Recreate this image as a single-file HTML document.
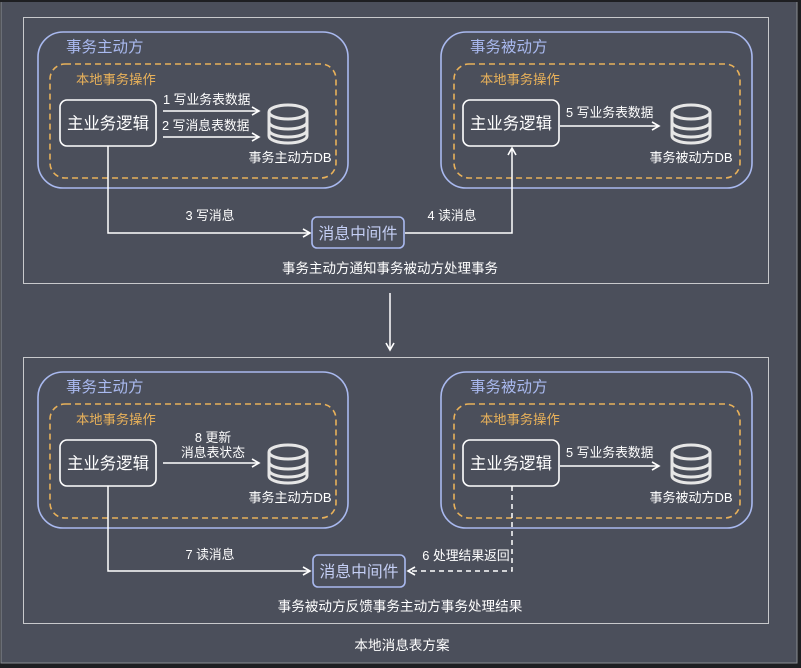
<!DOCTYPE html>
<html><head><meta charset="utf-8"><style>
html,body{margin:0;padding:0;background:#1e1f22;}
svg{display:block;font-family:"Liberation Sans","Noto Sans CJK SC",sans-serif;}
</style></head><body>
<svg width="801" height="668" viewBox="0 0 801 668" xmlns="http://www.w3.org/2000/svg">
<defs>
<marker id="a" markerWidth="10" markerHeight="10" refX="8" refY="5" orient="auto" markerUnits="userSpaceOnUse"><path d="M1,1 L8,5 L1,9" fill="none" stroke="#fff" stroke-width="1.6"/></marker>
<g id="db" fill="none" stroke="#e6e6e6" stroke-width="3">
<ellipse cx="0" cy="-12" rx="19" ry="7"/>
<path d="M-19,-12 V12 A19,7 0 0 0 19,12 V-12"/>
<path d="M-19,-2 A19,7 0 0 0 19,-2"/>
<path d="M-19,6 A19,7 0 0 0 19,6"/>
</g>
</defs>
<rect x="1" y="1" width="796" height="662" fill="#4b4f5b" stroke="#8a8c92" stroke-width="1"/>
<rect x="0" y="0" width="801" height="2" fill="#1e1f22"/>
<g fill="none" stroke="#c8c9cc" stroke-width="1">
<rect x="23.5" y="17.5" width="745" height="266"/>
<rect x="23.5" y="357.5" width="745" height="266"/>
</g>
<line x1="390" y1="293" x2="390" y2="350" stroke="#fff" stroke-width="1.5" marker-end="url(#a)"/>

<g id="sec">
<rect x="38" y="32" width="310" height="156" rx="25" fill="none" stroke="#a9b9ef" stroke-width="1.6"/>
<rect x="50" y="64" width="286" height="114" rx="15" fill="none" stroke="#e8b15a" stroke-width="1.6" stroke-dasharray="6,4"/>
<rect x="441" y="32" width="311" height="156" rx="25" fill="none" stroke="#a9b9ef" stroke-width="1.6"/>
<rect x="454" y="64" width="286" height="114" rx="15" fill="none" stroke="#e8b15a" stroke-width="1.6" stroke-dasharray="6,4"/>
<text x="66" y="52" font-size="15.5" fill="#a9b9ef">事务主动方</text>
<text x="470" y="52" font-size="15.5" fill="#a9b9ef">事务被动方</text>
<text x="76" y="84" font-size="13.3" fill="#e8b15a">本地事务操作</text>
<text x="480" y="84" font-size="13.3" fill="#e8b15a">本地事务操作</text>
<rect x="60" y="100" width="96" height="46" rx="7" fill="none" stroke="#fff" stroke-width="1.6"/>
<text x="108" y="129" font-size="16.4" fill="#fff" text-anchor="middle">主业务逻辑</text>
<rect x="463" y="100" width="96" height="46" rx="7" fill="none" stroke="#fff" stroke-width="1.6"/>
<text x="511" y="129" font-size="16.4" fill="#fff" text-anchor="middle">主业务逻辑</text>
<use href="#db" x="288" y="124"/>
<use href="#db" x="691" y="124"/>
<text x="290" y="162" font-size="13" fill="#fff" text-anchor="middle">事务主动方DB</text>
<text x="691" y="162" font-size="13" fill="#fff" text-anchor="middle">事务被动方DB</text>
<line x1="560" y1="126" x2="659" y2="126" stroke="#fff" stroke-width="1.5" marker-end="url(#a)"/>
<text x="566" y="117" font-size="12.8" fill="#fff">5 写业务表数据</text>
</g>
<use href="#sec" y="340"/>

<line x1="163" y1="111" x2="259" y2="111" stroke="#fff" stroke-width="1.5" marker-end="url(#a)"/>
<line x1="163" y1="137" x2="259" y2="137" stroke="#fff" stroke-width="1.5" marker-end="url(#a)"/>
<text x="163" y="104" font-size="12.8" fill="#fff">1 写业务表数据</text>
<text x="162" y="130" font-size="12.8" fill="#fff">2 写消息表数据</text>
<path d="M108,146 V233 H310" fill="none" stroke="#fff" stroke-width="1.5" marker-end="url(#a)"/>
<text x="210" y="220" font-size="12.8" fill="#fff" text-anchor="middle">3 写消息</text>
<path d="M405,233 H512 V148" fill="none" stroke="#fff" stroke-width="1.5" marker-end="url(#a)"/>
<text x="452" y="220" font-size="12.8" fill="#fff" text-anchor="middle">4 读消息</text>
<rect x="312" y="217" width="92" height="31" rx="5" fill="#4b4f5b" stroke="#a9b9ef" stroke-width="1.6"/>
<text x="358" y="239" font-size="15.8" fill="#c5cff5" text-anchor="middle">消息中间件</text>
<text x="390" y="273" font-size="13.5" fill="#fff" text-anchor="middle">事务主动方通知事务被动方处理事务</text>

<line x1="163" y1="463" x2="259" y2="463" stroke="#fff" stroke-width="1.5" marker-end="url(#a)"/>
<text x="213" y="442" font-size="12.8" fill="#fff" text-anchor="middle">8 更新</text>
<text x="213" y="457" font-size="12.8" fill="#fff" text-anchor="middle">消息表状态</text>
<path d="M108,486 V571 H310" fill="none" stroke="#fff" stroke-width="1.5" marker-end="url(#a)"/>
<text x="210" y="559" font-size="12.8" fill="#fff" text-anchor="middle">7 读消息</text>
<path d="M512,486 V571 H408" fill="none" stroke="#fff" stroke-width="1.5" stroke-dasharray="5,4" marker-end="url(#a)"/>
<text x="466" y="560" font-size="12.8" fill="#fff" text-anchor="middle">6 处理结果返回</text>
<rect x="313" y="555" width="92" height="32" rx="5" fill="#4b4f5b" stroke="#a9b9ef" stroke-width="1.6"/>
<text x="359" y="577" font-size="15.8" fill="#c5cff5" text-anchor="middle">消息中间件</text>
<text x="400" y="611" font-size="13.6" fill="#fff" text-anchor="middle">事务被动方反馈事务主动方事务处理结果</text>
<text x="402" y="650" font-size="13.6" fill="#fff" text-anchor="middle">本地消息表方案</text>
</svg>
</body></html>
